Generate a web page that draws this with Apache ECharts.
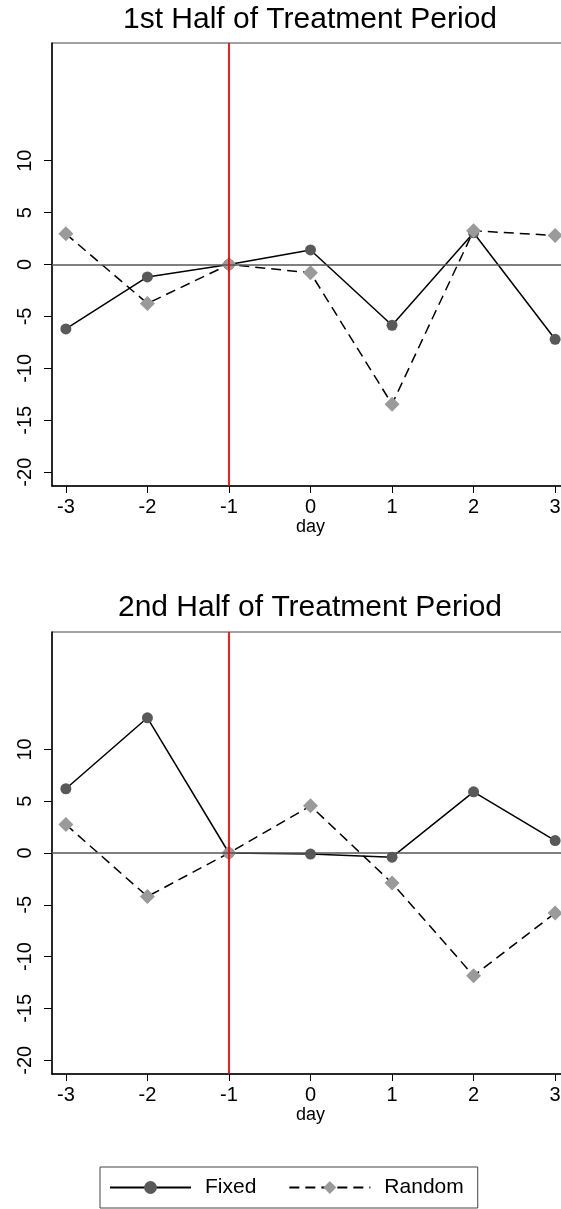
<!DOCTYPE html>
<html>
<head>
<meta charset="utf-8">
<script src="https://cdn.jsdelivr.net/npm/echarts@6/dist/echarts.min.js"></script>
<style>
html,body{margin:0;padding:0;background:#fff;}
#c{width:561px;height:1209px;}
</style>
</head>
<body>
<div id="c"></div>
<script>
const days = [-3, -2, -1, 0, 1, 2, 3];
const xTicks = [-3, -2, -1, 0, 1, 2, 3];
const yTicks = [-20, -15, -10, -5, 0, 5, 10];
const titles = ['1st Half of Treatment Period', '2nd Half of Treatment Period'];
const fixed1 = [-6.2, -1.2, 0, 1.4, -5.85, 3.05, -7.2];
const random1 = [2.95, -3.75, 0, -0.8, -13.45, 3.25, 2.8];
const fixed2 = [6.2, 13.05, 0, -0.1, -0.4, 5.9, 1.2];
const random2 = [2.75, -4.2, 0, 4.55, -2.9, -11.85, -5.8];
const eventDay = -1;
const seriesNames = ['Fixed', 'Random'];

const FONT = 'Liberation Sans, Arial, sans-serif';
const grids = [
  {left: 52, top: 43, right: -8, height: 443},
  {left: 52, top: 632, right: -8, height: 442}
];
const pair = (xs, ys) => xs.map((x, i) => [x, ys[i]]);

function xAxisFor(i) {
  return {
    type: 'value', gridIndex: i, min: -3.17, max: 3.17,
    name: 'day', nameLocation: 'middle', nameGap: 23,
    nameTextStyle: {fontFamily: FONT, fontSize: 18, color: '#000'},
    axisLine: {show: true, onZero: false, lineStyle: {color: '#000', width: 1.5}},
    axisTick: {show: true, length: 7, customValues: xTicks, lineStyle: {color: '#000', width: 1}},
    axisLabel: {customValues: xTicks, margin: 11, fontFamily: FONT, fontSize: 20, color: '#000',
      formatter: v => String(Math.round(v))},
    splitLine: {show: false}
  };
}
function yAxisFor(i) {
  return {
    type: 'value', gridIndex: i, min: -21.33, max: 21.33,
    axisLine: {show: true, onZero: false, lineStyle: {color: '#000', width: 1.5}},
    axisTick: {show: true, length: 8, customValues: yTicks, lineStyle: {color: '#000', width: 1}},
    axisLabel: {customValues: yTicks, rotate: 90, margin: 17, fontFamily: FONT, fontSize: 20, color: '#000',
      formatter: v => String(Math.round(v))},
    splitLine: {show: false}
  };
}
function seriesFor(i, f, r) {
  return [
    {
      name: seriesNames[0], type: 'line', xAxisIndex: i, yAxisIndex: i,
      data: pair(days, f), symbol: 'circle', symbolSize: 11,
      itemStyle: {color: '#595959'},
      lineStyle: {color: '#000', width: 1.5, type: 'solid'},
      z: 3,
      markLine: {
        silent: true, symbol: 'none', animation: false, label: {show: false},
        data: [
          {yAxis: 0, lineStyle: {color: '#555', width: 1.5, type: 'solid'}},
          {xAxis: eventDay, lineStyle: {color: '#f00', width: 1.8, type: 'solid'}}
        ]
      }
    },
    {
      name: seriesNames[1], type: 'line', xAxisIndex: i, yAxisIndex: i,
      data: pair(days, r), symbol: 'diamond', symbolSize: 15,
      itemStyle: {color: '#9a9a9a'},
      lineStyle: {color: '#000', width: 1.5, type: [10, 6]},
      z: 4
    }
  ];
}

const chart = echarts.init(document.getElementById('c'), null, {renderer: 'canvas'});
chart.setOption({
  animation: false,
  backgroundColor: '#fff',
  grid: grids.map(g => Object.assign({show: true, borderColor: '#444', borderWidth: 1,
    backgroundColor: '#fff', containLabel: false, outerBoundsMode: 'none'}, g)),
  xAxis: [xAxisFor(0), xAxisFor(1)],
  yAxis: [yAxisFor(0), yAxisFor(1)],
  graphic: titles.map((t, i) => ({
    type: 'text', x: 310, y: i === 0 ? 5 : 593,
    style: {text: t, fontFamily: FONT, fontSize: 30, fill: '#000', textAlign: 'center', textVerticalAlign: 'top'}
  })),
  legend: {
    data: seriesNames, left: 100, top: 1167, orient: 'horizontal',
    padding: [10, 14, 10, 9], itemGap: 32, itemWidth: 81, itemHeight: 16,
    borderColor: '#444', borderWidth: 1,
    textStyle: {fontFamily: FONT, fontSize: 21, color: '#000', padding: [0, 0, 0, 9]}
  },
  series: [].concat(seriesFor(0, fixed1, random1), seriesFor(1, fixed2, random2))
});
</script>
</body>
</html>
